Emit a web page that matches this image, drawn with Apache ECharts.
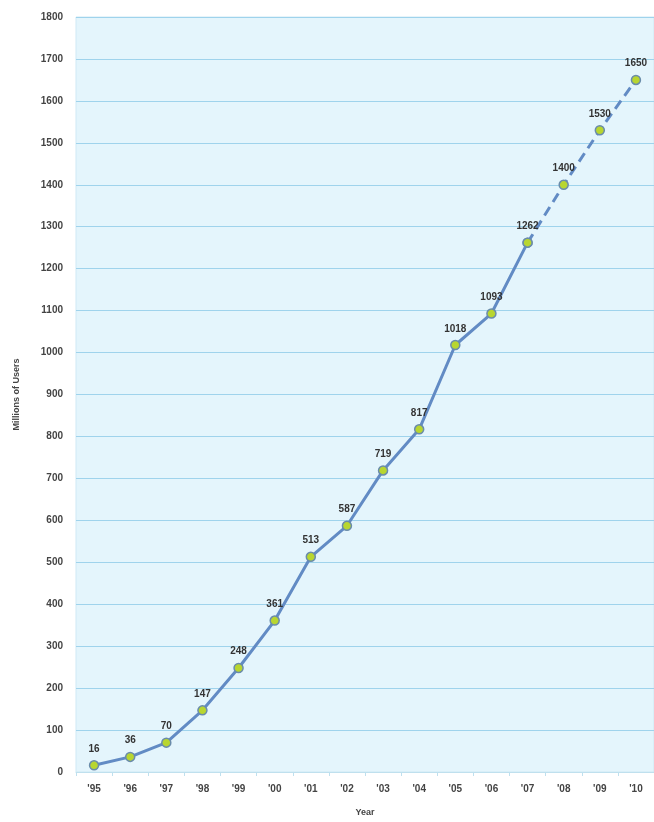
<!DOCTYPE html>
<html><head><meta charset="utf-8">
<script src="https://cdn.jsdelivr.net/npm/echarts@6/dist/echarts.min.js"></script>
<style>html,body{margin:0;padding:0;background:#fff}#c{width:654px;height:822px}</style>
</head><body><div id="c"></div>
<script>
const years = ["'95","'96","'97","'98","'99","'00","'01","'02","'03","'04","'05","'06","'07","'08","'09","'10"];
const users = [16,36,70,147,248,361,513,587,719,817,1018,1093,1262,1400,1530,1650];
const actualCount = 13; // '95 - '07 measured, '08 - '10 projected
const yTicks = {min:0, max:1800, interval:100};

const solid = users.map((v,i)=> i < actualCount ? v : null);
const dashed = users.map((v,i)=> i >= actualCount-1 ? v : null);

const chart = echarts.init(document.getElementById('c'));
const labelStyle = {show:true, position:'top', distance:6, color:'#333', fontFamily:'Arial, Liberation Sans', fontWeight:'bold', fontSize:10};
chart.setOption({
  animation:false,
  grid:{left:76, top:17, width:581, height:756, show:true, backgroundColor:'#e4f5fc', borderColor:'#cfe9f5', borderWidth:1},
  xAxis:{type:'category', data:years, boundaryGap:true,
    name:'Year', nameLocation:'middle', nameGap:36,
    nameTextStyle:{color:'#444', fontWeight:'bold', fontSize:9, fontFamily:'Arial, Liberation Sans'},
    axisLine:{show:true, lineStyle:{color:'#bfe0ee'}},
    axisTick:{show:true, length:4, lineStyle:{color:'#bfe0ee'}},
    axisLabel:{color:'#444', fontWeight:'bold', fontSize:10, margin:12, fontFamily:'Arial, Liberation Sans'}},
  yAxis:{type:'value', min:yTicks.min, max:yTicks.max, interval:yTicks.interval,
    name:'Millions of Users', nameLocation:'middle', nameGap:55, nameRotate:90,
    nameTextStyle:{color:'#444', fontWeight:'bold', fontSize:9, fontFamily:'Arial, Liberation Sans'},
    axisLine:{show:false}, axisTick:{show:false},
    axisLabel:{color:'#444', fontWeight:'bold', fontSize:10, margin:13, fontFamily:'Arial, Liberation Sans', formatter:(v)=> String(v)},
    splitLine:{show:true, lineStyle:{color:'#9fd3ec', width:1, type:'solid'}}},
  series:[
    {type:'line', data:solid, symbol:'circle', symbolSize:9, connectNulls:false,
     lineStyle:{color:'#628bc4', width:3},
     itemStyle:{color:'#b8d630', borderColor:'#6a8cab', borderWidth:1.5},
     label:labelStyle, z:3},
    {type:'line', data:dashed, symbol:'circle', symbolSize:9,
     lineStyle:{color:'#628bc4', width:3, type:[10,6]},
     itemStyle:{color:'#b8d630', borderColor:'#6a8cab', borderWidth:1.5},
     label:Object.assign({}, labelStyle, {formatter:(p)=> p.dataIndex >= actualCount ? p.value : ''}), z:2}
  ]
});
</script></body></html>
